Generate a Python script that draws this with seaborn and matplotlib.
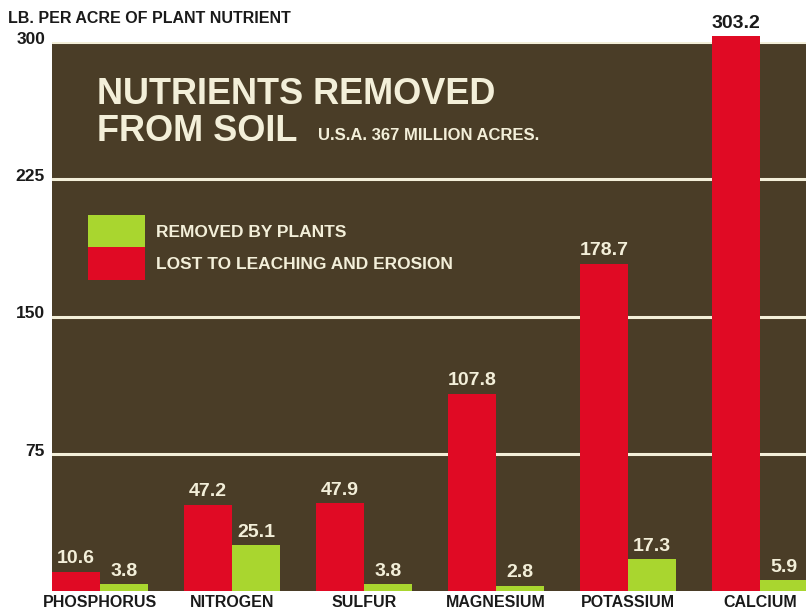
import matplotlib
matplotlib.use("Agg")
import matplotlib.pyplot as plt
import matplotlib.transforms as mtransforms
from matplotlib.patches import Patch
import pandas as pd
import seaborn as sns

# --- data ---
nutrients = ["PHOSPHORUS", "NITROGEN", "SULFUR", "MAGNESIUM", "POTASSIUM", "CALCIUM"]
lost = [10.6, 47.2, 47.9, 107.8, 178.7, 303.2]
removed = [3.8, 25.1, 3.8, 2.8, 17.3, 5.9]
lost_label = "LOST TO LEACHING AND EROSION"
removed_label = "REMOVED BY PLANTS"
y_ticks = [75, 150, 225, 300]

BROWN = "#4a3d27"
RED = "#e00a24"
GREEN = "#a9d62f"
CREAM = "#f3efd9"
INK = "#1a1a1a"

sns.set_theme(style="white")
plt.rcParams["font.family"] = ["Liberation Sans", "DejaVu Sans"]

df = pd.DataFrame({
    "nutrient": nutrients * 2,
    "amount": lost + removed,
    "kind": [lost_label] * len(nutrients) + [removed_label] * len(nutrients),
})

fig = plt.figure(figsize=(8.06, 6.10), dpi=100)
ax = fig.add_axes([0.0645, 0.031, 0.9355, 0.900])
ax.set_facecolor(BROWN)

sns.barplot(data=df, x="nutrient", y="amount", hue="kind", order=nutrients,
            hue_order=[lost_label, removed_label], palette=[RED, GREEN],
            width=0.73, saturation=1, dodge=True, ax=ax, legend=False)

ax.set_ylim(0, 300)
ax.set_xlim(-0.365, 5.35)
ax.set_axisbelow(True)
for y in y_ticks:
    ax.axhline(y, color=CREAM, lw=2.2, zorder=0.5)
for s in ax.spines.values():
    s.set_visible(False)

# calcium pokes out of the top
for p in ax.patches:
    p.set_clip_on(False)
    p.set_linewidth(0)

# value labels
for container, vals in zip(ax.containers, [lost, removed]):
    for bar, v in zip(container, vals):
        cx = bar.get_x() + bar.get_width() / 2
        color = INK if v > 300 else CREAM
        ax.text(cx, v + 2.5, f"{v:.1f}", ha="center", va="bottom",
                fontsize=14, fontweight="bold", color=color, clip_on=False)

ax.set_ylabel("")
ax.set_xlabel("")
ax.set_yticks(y_ticks)
ax.set_yticklabels([str(y) for y in y_ticks], fontsize=12.5,
                   fontweight="bold", color=INK)
ax.tick_params(axis="y", length=0, pad=5)
lift = mtransforms.ScaledTranslation(0, 3 / 72, fig.dpi_scale_trans)
for lab in ax.get_yticklabels():
    lab.set_transform(lab.get_transform() + lift)

fig.text(0.010, 0.970, "LB. PER ACRE OF PLANT NUTRIENT", ha="left", va="center",
         fontsize=11.5, fontweight="bold", color=INK)

ax.tick_params(axis="x", length=0, pad=3)
ax.set_xticks(range(len(nutrients)))
ax.set_xticklabels(nutrients, fontsize=11.5, fontweight="bold", color=INK)

# title inside the plot
ax.text(0.060, 0.904, "NUTRIENTS REMOVED", transform=ax.transAxes, ha="left",
        va="center", fontsize=26, fontweight="bold", color=CREAM)
ax.text(0.060, 0.838, "FROM SOIL", transform=ax.transAxes, ha="left",
        va="center", fontsize=26, fontweight="bold", color=CREAM)
ax.text(0.353, 0.829, "U.S.A. 367 MILLION ACRES.", transform=ax.transAxes,
        ha="left", va="center", fontsize=12, fontweight="bold", color=CREAM)

handles = [Patch(facecolor=GREEN, edgecolor="none", label=removed_label),
           Patch(facecolor=RED, edgecolor="none", label=lost_label)]
leg = ax.legend(handles=handles, loc="upper left", bbox_to_anchor=(0.048, 0.685),
                frameon=False, fontsize=12.5, handlelength=3.3, handleheight=2.5,
                labelspacing=0, handletextpad=0.6, borderaxespad=0,
                borderpad=0)
for t in leg.get_texts():
    t.set_color(CREAM)
    t.set_fontweight("bold")

fig.savefig("out.png", dpi=100, facecolor="white")
